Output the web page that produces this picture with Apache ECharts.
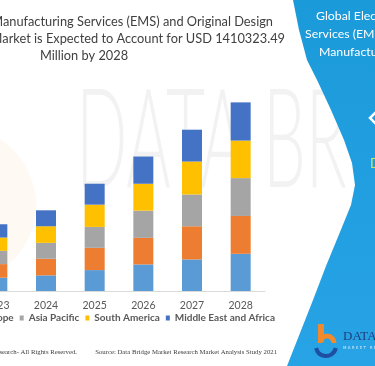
<!DOCTYPE html>
<html>
<head>
<meta charset="utf-8">
<script src="https://cdn.jsdelivr.net/npm/echarts@6/dist/echarts.min.js"></script>
<style>
html,body{margin:0;padding:0;background:#fff;}
#chart{width:375px;height:366px;}
</style>
</head>
<body>
<div id="chart"></div>
<script>
// ---- data (USD million) ----
const years = ['2023', '2024', '2025', '2026', '2027', '2028'];
const northAmerica = [99300, 116700, 156400, 198600, 236000, 278100];
const europe       = [101800, 124100, 166400, 198600, 248000, 283000];
const asiaPacific  = [99300, 119200, 156400, 203600, 238000, 283000];
const southAmerica = [99300, 124100, 166400, 201000, 246000, 280600];
const middleEastAfrica = [99300, 119200, 156400, 203600, 238000, 285623];
const seriesNames = ['North America', 'Europe', 'Asia Pacific', 'South America', 'Middle East and Africa'];
const seriesColors = ['#5B9BD5', '#ED7D31', '#A5A5A5', '#FFC000', '#4472C4'];
const titleLines = [
  'Global Electronic Manufacturing Services (EMS) and Original Design',
  'Manufacturing (ODM) Market is Expected to Account for USD 1410323.49',
  'Million by 2028'
];
const panelLines = [
  'Global Electronic Manufacturing',
  'Services (EMS) and Original Design',
  'Manufacturing (ODM) Market'
];
const copyrightText = '\u00A9 2021 Data Bridge Market Research- All Rights Reserved.';
const sourceText = 'Source: Data Bridge Market Research Market Analysis Study 2021';

const allSeries = [northAmerica, europe, asiaPacific, southAmerica, middleEastAfrica];

const chart = echarts.init(document.getElementById('chart'), null, {renderer: 'canvas'});

const panelEdge = [[293, 0], [299, 30], [307, 60], [318, 82], [331, 110], [344, 140], [352, 163], [355, 185], [351, 205], [340, 232], [326, 266], [313, 300], [300, 333], [287, 366], [375, 366], [375, 0]];

const graphics = [
  // faint decorative background
  {type: 'circle', z: -10, silent: true, shape: {cx: -42, cy: 205, r: 78}, style: {fill: 'rgba(248,200,150,0.11)'}},
  {type: 'text', z: -9, x: 76, y: 142, scaleX: 0.49, silent: true,
    style: {text: 'DATA BR', font: '300 138px Lato', fill: 'rgba(222,222,222,0.38)', verticalAlign: 'middle'}},
  // right blue panel
  {type: 'polygon', z: 20, silent: true,
    shape: {points: panelEdge},
    style: {fill: new echarts.graphic.LinearGradient(0, 0, 0, 1, [{offset: 0, color: '#1b9ad9'}, {offset: 1, color: '#27a3e6'}])}},
  {type: 'text', z: 21, x: 316, y: 16, silent: true,
    style: {text: panelLines[0], font: '12.3px Lato', fill: '#ffffff', verticalAlign: 'middle'}},
  {type: 'text', z: 21, x: 305, y: 34, silent: true,
    style: {text: panelLines[1], font: '12.3px Lato', fill: '#ffffff', verticalAlign: 'middle'}},
  {type: 'text', z: 21, x: 319, y: 52, silent: true,
    style: {text: panelLines[2], font: '12.3px Lato', fill: '#ffffff', verticalAlign: 'middle'}},
  // diamond icon
  {type: 'polygon', z: 21, silent: true,
    shape: {points: [[370, 118], [385, 103], [400, 118], [385, 133]]},
    style: {fill: 'none', stroke: '#ffffff', lineWidth: 2.5}},
  {type: 'text', z: 21, x: 370, y: 164, silent: true,
    style: {text: 'DATA BRIDGE', font: '13px Lato', fill: '#d6e35a', verticalAlign: 'middle'}},
  // logo
  {type: 'rect', z: 21, silent: true, shape: {x: 318, y: 324, width: 6, height: 18, r: 1}, style: {fill: '#f08a2c'}},
  {type: 'arc', z: 21, silent: true, shape: {cx: 327, cy: 343, r: 7, startAngle: Math.PI, endAngle: 2 * Math.PI}, style: {stroke: '#f08a2c', lineWidth: 5, fill: 'none'}},
  {type: 'arc', z: 21, silent: true, shape: {cx: 326, cy: 346, r: 10, startAngle: 0.2, endAngle: Math.PI - 0.2}, style: {stroke: '#1f4fa3', lineWidth: 4, fill: 'none'}},
  {type: 'text', z: 21, x: 343, y: 337, silent: true,
    style: {text: 'DATA BRIDGE', font: '13px "Liberation Serif"', fill: '#1f3f7a', verticalAlign: 'middle'}},
  {type: 'text', z: 21, x: 343, y: 348, silent: true,
    style: {text: 'M A R K E T   R E S E A R C H', font: '4px "DejaVu Sans"', fill: '#cfe8f7', verticalAlign: 'middle'}},
  // title
  {type: 'text', z: 5, x: 273, y: 22, silent: true,
    style: {text: titleLines[0], font: '12.8px Lato', fill: '#404040', align: 'right', verticalAlign: 'middle'}},
  {type: 'text', z: 5, x: 285, y: 39, silent: true,
    style: {text: titleLines[1], font: '12.8px Lato', fill: '#404040', align: 'right', verticalAlign: 'middle'}},
  {type: 'text', z: 5, x: 84, y: 56, silent: true,
    style: {text: titleLines[2], font: '12.8px Lato', fill: '#404040', align: 'center', verticalAlign: 'middle'}},
  // footer
  {type: 'text', z: 5, x: 77, y: 352, silent: true,
    style: {text: copyrightText, font: '6.75px "Liberation Serif"', fill: '#404040', align: 'right', verticalAlign: 'middle'}},
  {type: 'text', z: 5, x: 277, y: 352, silent: true,
    style: {text: sourceText, font: '6.75px "Liberation Serif"', fill: '#404040', align: 'right', verticalAlign: 'middle'}}
];

const option = {
  animation: false,
  backgroundColor: '#ffffff',
  color: seriesColors,
  grid: {left: -27, right: 110, top: 77, bottom: 75, outerBoundsMode: 'none', containLabel: false},
  xAxis: {
    type: 'category',
    data: years,
    axisLine: {show: true, lineStyle: {color: '#d9d9d9', width: 1}},
    axisTick: {show: false},
    axisLabel: {color: '#595959', fontSize: 10.5, fontFamily: 'Lato', margin: 9}
  },
  yAxis: {
    type: 'value',
    min: 0,
    max: 1600000,
    show: false,
    splitLine: {show: false}
  },
  legend: {
    data: seriesNames,
    right: 100,
    width: 600,
    top: 313,
    padding: 0,
    itemWidth: 4,
    itemHeight: 5,
    itemGap: 6,
    icon: 'rect',
    textStyle: {color: '#595959', fontSize: 10, fontFamily: 'Lato', fontWeight: 700}
  },
  series: seriesNames.map((name, i) => ({
    name: name,
    type: 'bar',
    stack: 'total',
    barWidth: 20,
    data: allSeries[i],
    itemStyle: {color: seriesColors[i]}
  })),
  graphic: graphics
};

chart.setOption(option);
</script>
</body>
</html>
